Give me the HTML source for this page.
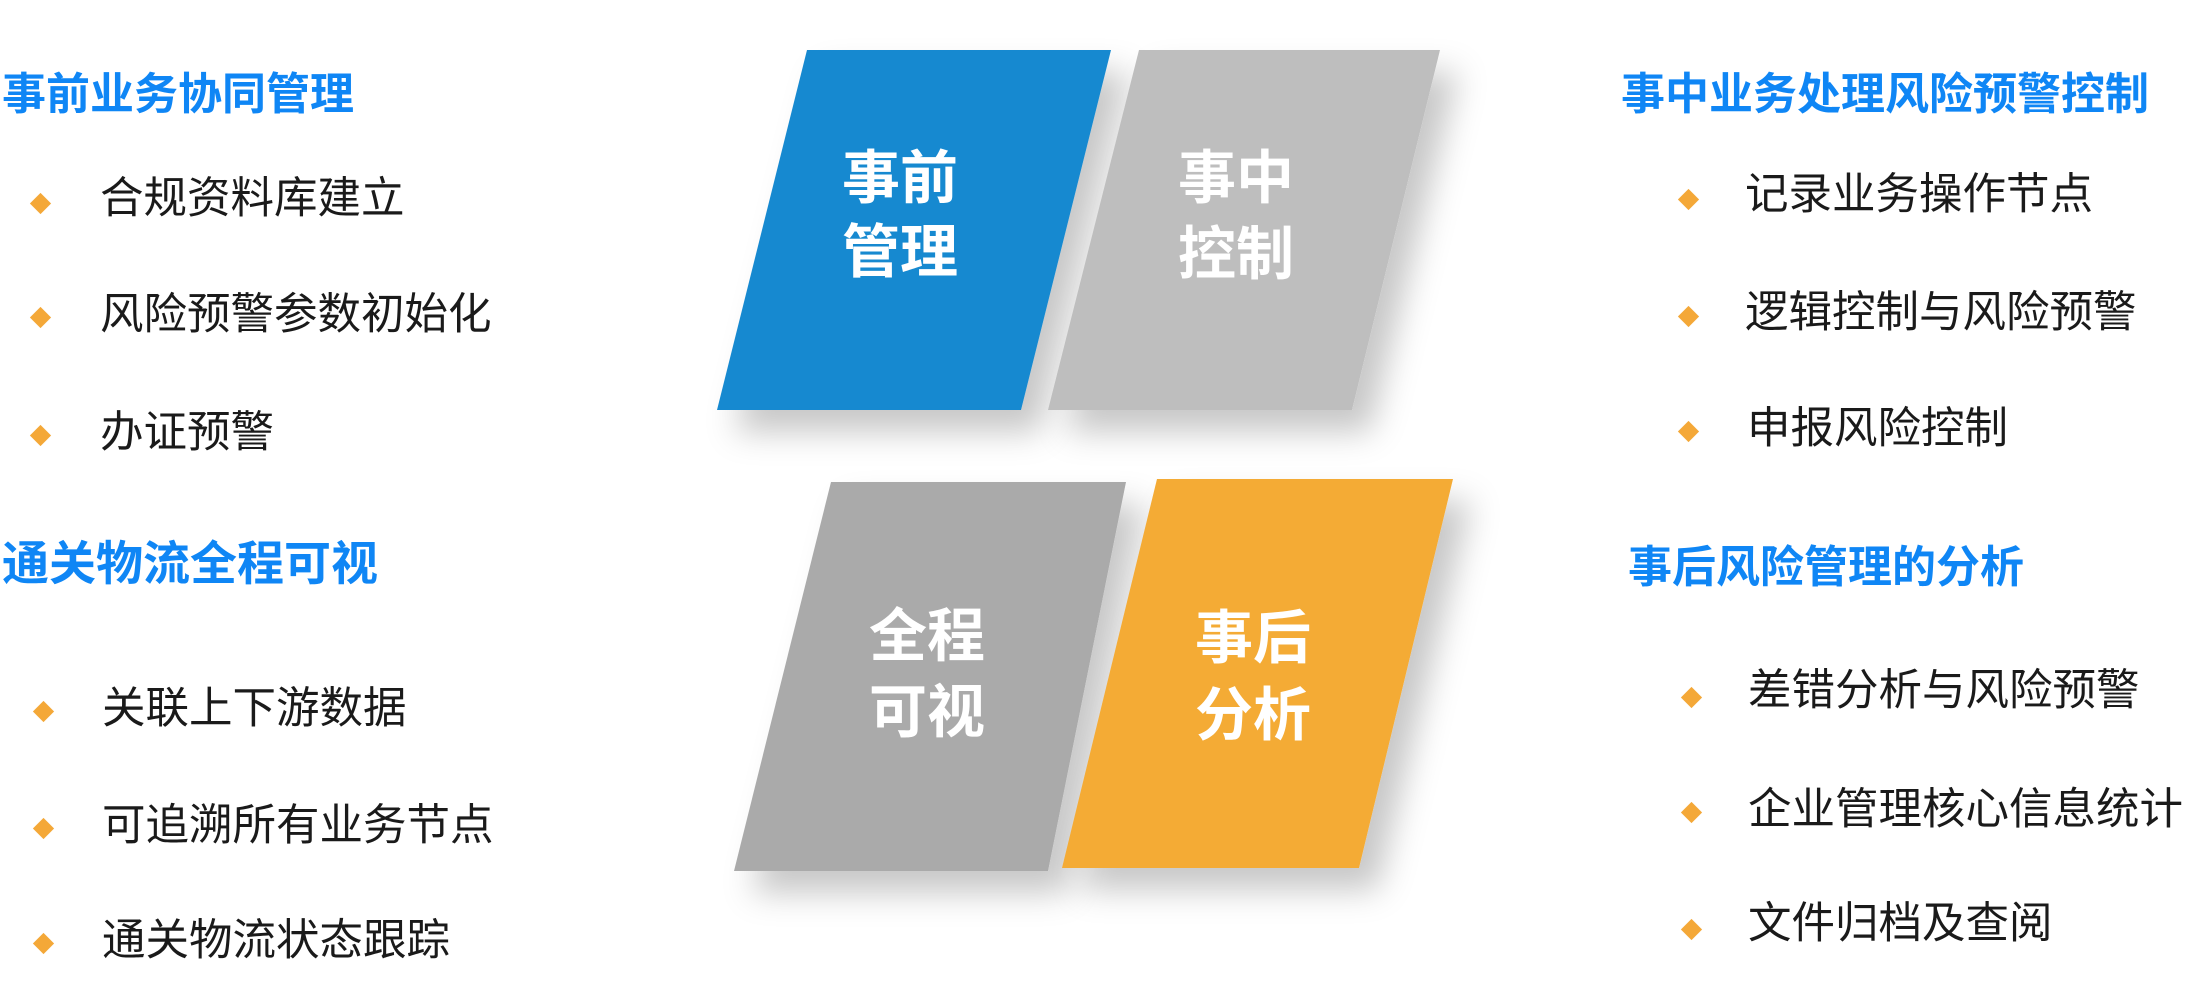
<!DOCTYPE html>
<html><head><meta charset="utf-8"><style>
body{margin:0;width:2186px;height:1007px;background:#fff;position:relative;overflow:hidden;font-family:"Liberation Sans","Noto Sans CJK SC",sans-serif}
.h{position:absolute;color:#0f86f5;font-weight:bold;font-size:44px;line-height:44px;white-space:nowrap}
.t{position:absolute;color:#1a1a1a;font-size:43.5px;line-height:44px;white-space:nowrap}
.d{position:absolute;width:15px;height:15px;background:#f4a838;transform:rotate(45deg)}
svg{position:absolute;left:0;top:0}
</style></head><body>
<svg width="2186" height="1007">
<defs><filter id="s" x="-30%" y="-30%" width="160%" height="160%"><feDropShadow dx="18" dy="22" stdDeviation="16" flood-color="#000" flood-opacity="0.22"/></filter></defs>
<polygon points="807,50 1111,50 1021,410 717,410" fill="#1789d0" filter="url(#s)"/>
<polygon points="1139,50 1440,50 1352,410 1048,410" fill="#bebebe" filter="url(#s)"/>
<polygon points="831,482 1126,482 1048,871 734,871" fill="#aaaaaa" filter="url(#s)"/>
<polygon points="1157,479 1453,479 1359,868 1062,868" fill="#f4ab36" filter="url(#s)"/>
<g fill="#fff" font-weight="bold" font-size="58" text-anchor="middle" font-family="Liberation Sans,Noto Sans CJK SC,sans-serif">
<text x="900" y="198">事前</text><text x="900" y="272">管理</text>
<text x="1236" y="198">事中</text><text x="1236" y="274">控制</text>
<text x="927" y="656">全程</text><text x="927" y="732">可视</text>
<text x="1253" y="658">事后</text><text x="1253" y="735">分析</text>
</g></svg>
<div class="h" style="left:2px;top:73px">事前业务协同管理</div>
<div class="d" style="left:33px;top:196px"></div><div class="t" style="left:100px;top:177px">合规资料库建立</div>
<div class="d" style="left:33px;top:310px"></div><div class="t" style="left:100px;top:293px">风险预警参数初始化</div>
<div class="d" style="left:33px;top:428px"></div><div class="t" style="left:100px;top:411px">办证预警</div>
<div class="h" style="left:2px;top:540px;font-size:47px;line-height:47px">通关物流全程可视</div>
<div class="d" style="left:36px;top:704px"></div><div class="t" style="left:102px;top:687px">关联上下游数据</div>
<div class="d" style="left:36px;top:821px"></div><div class="t" style="left:102px;top:804px">可追溯所有业务节点</div>
<div class="d" style="left:36px;top:936px"></div><div class="t" style="left:102px;top:919px">通关物流状态跟踪</div>
<div class="h" style="left:1621px;top:73px">事中业务处理风险预警控制</div>
<div class="d" style="left:1681px;top:192px"></div><div class="t" style="left:1745px;top:173px">记录业务操作节点</div>
<div class="d" style="left:1681px;top:309px"></div><div class="t" style="left:1745px;top:291px">逻辑控制与风险预警</div>
<div class="d" style="left:1681px;top:424px"></div><div class="t" style="left:1747px;top:407px">申报风险控制</div>
<div class="h" style="left:1628px;top:546px">事后风险管理的分析</div>
<div class="d" style="left:1684px;top:690px"></div><div class="t" style="left:1748px;top:669px">差错分析与风险预警</div>
<div class="d" style="left:1684px;top:805px"></div><div class="t" style="left:1748px;top:788px">企业管理核心信息统计</div>
<div class="d" style="left:1684px;top:922px"></div><div class="t" style="left:1748px;top:902px">文件归档及查阅</div>
</body></html>
